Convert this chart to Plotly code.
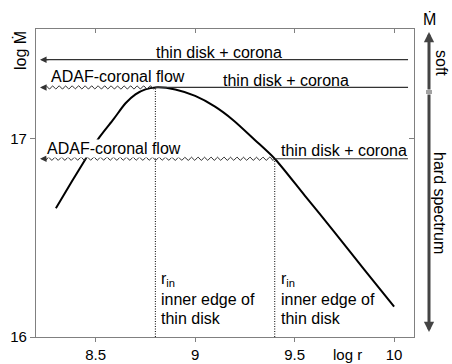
import numpy as np
import plotly.graph_objects as go

# ---------------- data ----------------
curve_logr = [8.30, 8.38, 8.45, 8.52, 8.59, 8.65, 8.70, 8.75, 8.80,
              8.90, 9.00, 9.10, 9.19, 9.30, 9.40, 9.55, 9.70, 9.85, 10.00]
curve_logmdot = [16.65, 16.785, 16.90, 17.01, 17.10, 17.18, 17.225, 17.25, 17.26,
                 17.25, 17.217, 17.163, 17.096, 16.995, 16.90, 16.715, 16.53, 16.34, 16.153]

level_top = 17.40          # thin disk + corona (soft)
level_peak = 17.26         # transition level, r_in at peak
level_low = 16.90          # lower accretion rate
r_in_peak = 8.80
r_in_low = 9.40
line_left = 8.22
line_right = 10.07

x_ticks = [8.5, 9, 9.5, 10]
x_ticklabels = ["8.5", "9", "9.5", "10"]
y_ticks = [16, 17]
y_ticklabels = ["16", "17"]

X_RANGE = [8.2, 10.1]
Y_RANGE = [16.0, 17.555]

# ---------------- layout geometry ----------------
W, H = 452, 364
ML, MR, MT, MB = 36, 38, 29, 27
PW, PH = W - ML - MR, H - MT - MB
dx_px = (X_RANGE[1] - X_RANGE[0]) / PW
dy_px = (Y_RANGE[1] - Y_RANGE[0]) / PH

FONT = "Liberation Sans, Arial, Helvetica, sans-serif"
DARK = "#333333"
FRAME = "#808080"


def wavy(x_start, x_end, y, period=6.5, amp=1.7):
    """decorative wiggle (styling) between two data x positions at level y"""
    n = int(abs(x_end - x_start) / dx_px * 3) + 2
    xs = np.linspace(x_start, x_end, n)
    phase = (xs - x_start) / dx_px / period * 2 * np.pi
    ys = y + amp * dy_px * np.sin(phase)
    return xs, ys


fig = go.Figure()

# main curve
fig.add_trace(go.Scatter(x=curve_logr, y=curve_logmdot, mode="lines",
                         line=dict(color="black", width=2, shape="spline", smoothing=0.8),
                         hoverinfo="skip", showlegend=False))

# horizontal solid lines
for x0, y in [(line_left + 0.02, level_top), (r_in_peak, level_peak), (r_in_low, level_low)]:
    fig.add_trace(go.Scatter(x=[x0, line_right], y=[y, y], mode="lines",
                             line=dict(color=DARK, width=1.2), hoverinfo="skip", showlegend=False))

# wavy ADAF lines
wave_end = line_left + 0.03
for x0, y in [(r_in_peak, level_peak), (r_in_low, level_low)]:
    xs, ys = wavy(x0, wave_end, y)
    fig.add_trace(go.Scatter(x=xs, y=ys, mode="lines",
                             line=dict(color=DARK, width=1), hoverinfo="skip", showlegend=False))

# dotted verticals
for xr, y in [(r_in_peak, level_peak), (r_in_low, level_low)]:
    fig.add_trace(go.Scatter(x=[xr, xr], y=[Y_RANGE[0], y], mode="lines",
                             line=dict(color="black", width=1, dash="1px,1.5px"),
                             hoverinfo="skip", showlegend=False))

# dummy trace for secondary axes
fig.add_trace(go.Scatter(x=[X_RANGE[0]], y=[Y_RANGE[0]], xaxis="x2", yaxis="y2",
                         mode="markers", marker=dict(opacity=0), hoverinfo="skip",
                         showlegend=False))

ann = []
tf = dict(family=FONT, size=16, color="black")

# arrowheads on left ends
for y, tail in [(level_top, line_left + 0.05), (level_peak, wave_end + 0.005),
                (level_low, wave_end + 0.005)]:
    ann.append(dict(x=line_left, y=y, ax=tail, ay=y, xref="x", yref="y",
                    axref="x", ayref="y", showarrow=True, arrowhead=2,
                    arrowsize=1.1, arrowwidth=1.2, arrowcolor=DARK, text=""))

# texts
ann += [
    dict(x=9.12, y=17.437, text="thin disk + corona", xanchor="center"),
    dict(x=8.266, y=17.313, text="ADAF-coronal flow", xanchor="left"),
    dict(x=9.13, y=17.294, text="thin disk + corona", xanchor="left"),
    dict(x=8.25, y=16.95, text="ADAF-coronal flow", xanchor="left",
         bgcolor="white", borderpad=0),
    dict(x=9.423, y=16.941, text="thin disk + corona", xanchor="left"),
]
for xr in [r_in_peak + 0.018, r_in_low + 0.022]:
    ann += [
        dict(x=xr, y=16.29, text="r<sub>in</sub>", xanchor="left"),
        dict(x=xr, y=16.187, text="inner edge of", xanchor="left"),
        dict(x=xr, y=16.094, text="thin disk", xanchor="left"),
    ]
for a in ann:
    if "text" in a and a.get("showarrow") is None:
        a.update(xref="x", yref="y", showarrow=False, yanchor="middle", font=tf)

# axis titles
ann.append(dict(x=-0.0423, y=0.9286, xref="paper", yref="paper", text="log Ṁ",
                textangle=-90, showarrow=False, font=tf, xanchor="center", yanchor="middle"))
ann.append(dict(x=9.764, y=-0.0584, xref="x", yref="paper", text="log r",
                showarrow=False, font=dict(family=FONT, size=15, color="black"),
                xanchor="center", yanchor="middle"))


# right-hand spectral state arrows
def px_to_paper_x(px):
    return (px - ML) / PW


def px_to_paper_y(py):
    return (H - MB - py) / PH


ax_x = px_to_paper_x(429)
ann.append(dict(x=ax_x, y=px_to_paper_y(32), xref="paper", yref="paper",
                ax=0, ay=59, axref="pixel", ayref="pixel", showarrow=True, text="",
                arrowhead=2, arrowsize=0.68, arrowwidth=3, arrowcolor="#444444"))
ann.append(dict(x=ax_x, y=px_to_paper_y(332), xref="paper", yref="paper",
                ax=0, ay=-239, axref="pixel", ayref="pixel", showarrow=True, text="",
                arrowhead=2, arrowsize=0.68, arrowwidth=3, arrowcolor="#444444"))
ann.append(dict(x=ax_x, y=px_to_paper_y(19), xref="paper", yref="paper", text="Ṁ",
                showarrow=False, font=tf, xanchor="center", yanchor="middle"))
ann.append(dict(x=px_to_paper_x(441), y=px_to_paper_y(63), xref="paper", yref="paper",
                text="soft", textangle=90, showarrow=False, font=tf,
                xanchor="center", yanchor="middle"))
ann.append(dict(x=px_to_paper_x(440), y=px_to_paper_y(203), xref="paper", yref="paper",
                text="hard spectrum", textangle=90, showarrow=False, font=tf,
                xanchor="center", yanchor="middle"))

shapes = []
for py in [91, 93]:
    shapes.append(dict(type="line", xref="paper", yref="paper",
                       x0=px_to_paper_x(426), x1=px_to_paper_x(432),
                       y0=px_to_paper_y(py), y1=px_to_paper_y(py),
                       line=dict(color="#444444", width=1)))

axis_common = dict(showgrid=False, zeroline=False, showline=True, linecolor=FRAME,
                   linewidth=1.2, tickcolor=FRAME, tickwidth=1.2, automargin=False,
                   tickfont=dict(family=FONT, size=15, color="black"))

fig.update_layout(
    width=W, height=H,
    margin=dict(l=ML, r=MR, t=MT, b=MB, pad=0, autoexpand=False),
    paper_bgcolor="white", plot_bgcolor="white",
    showlegend=False,
    hovermode=False,
    xaxis=dict(range=X_RANGE, tickvals=x_ticks, ticktext=x_ticklabels,
               ticks="outside", ticklen=4, **axis_common),
    xaxis2=dict(range=X_RANGE, overlaying="x", side="top", tickvals=x_ticks,
                ticks="inside", ticklen=4, showticklabels=False, **axis_common),
    yaxis=dict(range=Y_RANGE, tickvals=y_ticks, ticktext=y_ticklabels,
               ticks="outside", ticklen=5, **axis_common),
    yaxis2=dict(range=Y_RANGE, overlaying="y", side="right", tickvals=y_ticks,
                ticks="inside", ticklen=5, showticklabels=False, **axis_common),
    annotations=ann,
    shapes=shapes,
)

fig.write_html("out.html", config={"displayModeBar": False},
               post_script="document.body.style.margin='0';document.body.style.overflow='hidden';")
